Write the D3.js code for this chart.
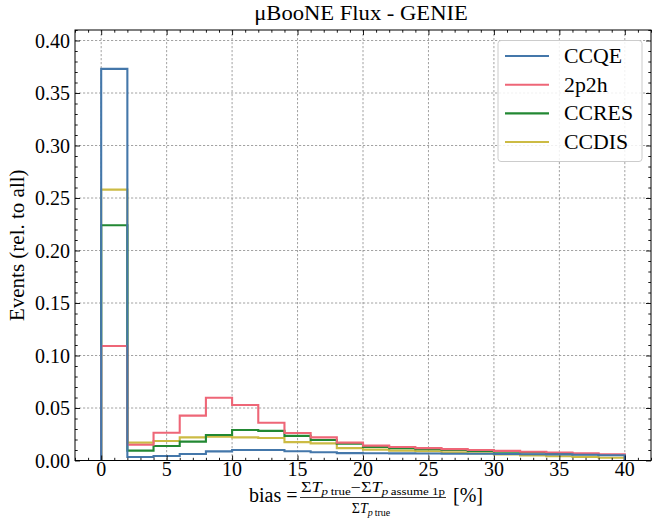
<!DOCTYPE html>
<html>
<head>
<meta charset="utf-8">
<script src="https://cdn.jsdelivr.net/npm/d3@7"></script>
<style>
  html, body { margin: 0; padding: 0; background: #fff; }
  svg { display: block; }
  text { font-family: "Liberation Serif", "Times New Roman", serif; fill: #000; }
</style>
</head>
<body>
<div id="chart"></div>
<script>
// ---------------- data ----------------
const binEdges = [0, 2, 4, 6, 8, 10, 12, 14, 16, 18, 20, 22, 24, 26, 28, 30, 32, 34, 36, 38, 40];
const seriesNames = ["CCQE", "2p2h", "CCRES", "CCDIS"];
const seriesColors = ["#4477AA", "#EE6677", "#228833", "#CCBB44"];
const ccqe  = [0.373, 0.0033, 0.0043, 0.0062, 0.0087, 0.0100, 0.0100, 0.0088, 0.0078, 0.0070, 0.0069, 0.0068, 0.0066, 0.0065, 0.0064, 0.0062, 0.0060, 0.0058, 0.0055, 0.0050];
const p2p2h = [0.109, 0.0150, 0.0265, 0.0427, 0.0598, 0.0528, 0.0360, 0.0262, 0.0220, 0.0170, 0.0142, 0.0128, 0.0118, 0.0108, 0.0100, 0.0092, 0.0084, 0.0076, 0.0068, 0.0060];
const ccres = [0.224, 0.0094, 0.0138, 0.0180, 0.0243, 0.0290, 0.0282, 0.0235, 0.0195, 0.0160, 0.0130, 0.0118, 0.0108, 0.0100, 0.0092, 0.0084, 0.0076, 0.0068, 0.0060, 0.0052];
const ccdis = [0.258, 0.0170, 0.0186, 0.0220, 0.0227, 0.0220, 0.0215, 0.0175, 0.0163, 0.0118, 0.0104, 0.0094, 0.0088, 0.0078, 0.0068, 0.0058, 0.0048, 0.0040, 0.0033, 0.0026];
const seriesValues = [ccqe, p2p2h, ccres, ccdis];
const xMajorTicks = [0, 5, 10, 15, 20, 25, 30, 35, 40];
const yMajorTicks = [0, 0.05, 0.10, 0.15, 0.20, 0.25, 0.30, 0.35, 0.40];
const titleText = "\u03BCBooNE Flux - GENIE";
const yLabelText = "Events (rel. to all)";

// ---------------- layout ----------------
const W = 652, H = 519;
const L = 75, R = 651, T = 30, B = 460.5;

const svg = d3.select("#chart").append("svg").attr("width", W).attr("height", H);

const x = d3.scaleLinear().domain([-2, 42]).range([L, R]);
const y = d3.scaleLinear().domain([0, 0.41]).range([B, T]);

const xMinor = d3.range(-2, 43, 1).filter(v => v % 5 !== 0);
const yMinor = d3.range(0, 0.411, 0.01).filter(v => Math.abs(Math.round(v * 100) % 5) !== 0);

// widen a Times-like text toward Computer Modern proportions
function widen(sel, f) {
  sel.each(function () {
    const w = this.getComputedTextLength();
    d3.select(this).attr("textLength", w * f).attr("lengthAdjust", "spacingAndGlyphs");
  });
  return sel;
}

// grid
const grid = svg.append("g");
grid.selectAll("line.gx").data(xMajorTicks).join("line")
  .attr("x1", d => x(d)).attr("x2", d => x(d)).attr("y1", T).attr("y2", B)
  .attr("stroke", "#8c8c8c").attr("stroke-width", 0.8).attr("stroke-dasharray", "2.2,1.8");
grid.selectAll("line.gy").data(yMajorTicks).join("line")
  .attr("x1", L).attr("x2", R).attr("y1", d => y(d)).attr("y2", d => y(d))
  .attr("stroke", "#8c8c8c").attr("stroke-width", 0.8).attr("stroke-dasharray", "2.2,1.8");

// histograms (step)
const line = d3.line().x(d => x(d[0])).y(d => y(d[1])).curve(d3.curveStepAfter);
const hist = svg.append("g");
const order = [3, 2, 1, 0];
order.forEach(i => {
  const vals = seriesValues[i];
  const pts = [[binEdges[0], 0]];
  vals.forEach((v, k) => pts.push([binEdges[k], v]));
  pts.push([binEdges[binEdges.length - 1], vals[vals.length - 1]]);
  pts.push([binEdges[binEdges.length - 1], 0]);
  hist.append("path").attr("d", line(pts))
    .attr("fill", "none").attr("stroke", seriesColors[i])
    .attr("stroke-width", 2.1).attr("stroke-linejoin", "miter");
});

// axes with inward ticks on all four sides
function tickAxis(axisGen, transform, vals, size) {
  const g = svg.append("g").attr("transform", transform)
    .call(axisGen.tickValues(vals).tickSize(size).tickFormat(""));
  g.select(".domain").remove();
  g.selectAll(".tick line").attr("stroke", "#000").attr("stroke-width", 0.9);
  return g;
}
tickAxis(d3.axisTop(x), `translate(0,${B})`, xMajorTicks, 5);
tickAxis(d3.axisTop(x), `translate(0,${B})`, xMinor, 2.7);
tickAxis(d3.axisBottom(x), `translate(0,${T})`, xMajorTicks, 5);
tickAxis(d3.axisBottom(x), `translate(0,${T})`, xMinor, 2.7);
tickAxis(d3.axisRight(y), `translate(${L},0)`, yMajorTicks, 5);
tickAxis(d3.axisRight(y), `translate(${L},0)`, yMinor, 2.7);
tickAxis(d3.axisLeft(y), `translate(${R},0)`, yMajorTicks, 5);
tickAxis(d3.axisLeft(y), `translate(${R},0)`, yMinor, 2.7);

// tick labels
svg.append("g").selectAll("text").data(xMajorTicks).join("text")
  .attr("x", d => x(d)).attr("y", 476).attr("text-anchor", "middle")
  .attr("font-size", 20).text(d => d);
svg.append("g").selectAll("text").data(yMajorTicks).join("text")
  .attr("x", 70).attr("y", d => y(d) + 7).attr("text-anchor", "end")
  .attr("font-size", 20).text(d => d.toFixed(2));

// frame
svg.append("rect").attr("x", L).attr("y", T).attr("width", R - L).attr("height", B - T)
  .attr("fill", "none").attr("stroke", "#000").attr("stroke-width", 1);

// title
widen(svg.append("text").attr("x", 361).attr("y", 20).attr("text-anchor", "middle")
  .attr("font-size", 20).text(titleText), 1.13);

// y label
widen(svg.append("text").attr("transform", `translate(24,${(T + B) / 2}) rotate(-90)`)
  .attr("text-anchor", "middle").attr("font-size", 20).text(yLabelText), 1.05);

// x label: bias = fraction [%]
const xl = svg.append("g");
xl.append("text").attr("x", 249).attr("y", 502).attr("font-size", 20).text("bias =");
const num = xl.append("text").attr("x", 301).attr("y", 492).attr("font-size", 14);
num.append("tspan").text("\u03A3");
num.append("tspan").attr("font-style", "italic").text("T");
num.append("tspan").attr("font-size", 10).attr("dy", 3).attr("font-style", "italic").text("p");
num.append("tspan").attr("font-size", 10).text("\u2009true");
num.append("tspan").attr("dy", -3).text("\u2212\u03A3");
num.append("tspan").attr("font-style", "italic").text("T");
num.append("tspan").attr("font-size", 10).attr("dy", 3).attr("font-style", "italic").text("p");
num.append("tspan").attr("font-size", 10).text("\u2009assume 1p");
num.attr("textLength", 144).attr("lengthAdjust", "spacingAndGlyphs");
xl.append("line").attr("x1", 300).attr("x2", 446).attr("y1", 497.5).attr("y2", 497.5)
  .attr("stroke", "#000").attr("stroke-width", 0.8);
const den = xl.append("text").attr("x", 371).attr("y", 512.5).attr("font-size", 14).attr("text-anchor", "middle");
den.append("tspan").text("\u03A3");
den.append("tspan").attr("font-style", "italic").text("T");
den.append("tspan").attr("font-size", 10).attr("dy", 3).attr("font-style", "italic").text("p");
den.append("tspan").attr("font-size", 10).text("\u2009true");
xl.append("text").attr("x", 453).attr("y", 502).attr("font-size", 20).text("[%]");

// legend
const lg = svg.append("g");
lg.append("rect").attr("x", 498).attr("y", 40.5).attr("width", 144).attr("height", 121)
  .attr("rx", 3).attr("fill", "#fff").attr("fill-opacity", 0.85)
  .attr("stroke", "#ccc").attr("stroke-width", 1);
const legendY = [56, 84.7, 113.4, 142];
seriesNames.forEach((n, i) => {
  lg.append("line").attr("x1", 505).attr("x2", 549).attr("y1", legendY[i]).attr("y2", legendY[i])
    .attr("stroke", seriesColors[i]).attr("stroke-width", 2.1);
  widen(lg.append("text").attr("x", 564).attr("y", legendY[i] + 7).attr("font-size", 20).text(n), 1.09);
});
</script>
</body>
</html>
